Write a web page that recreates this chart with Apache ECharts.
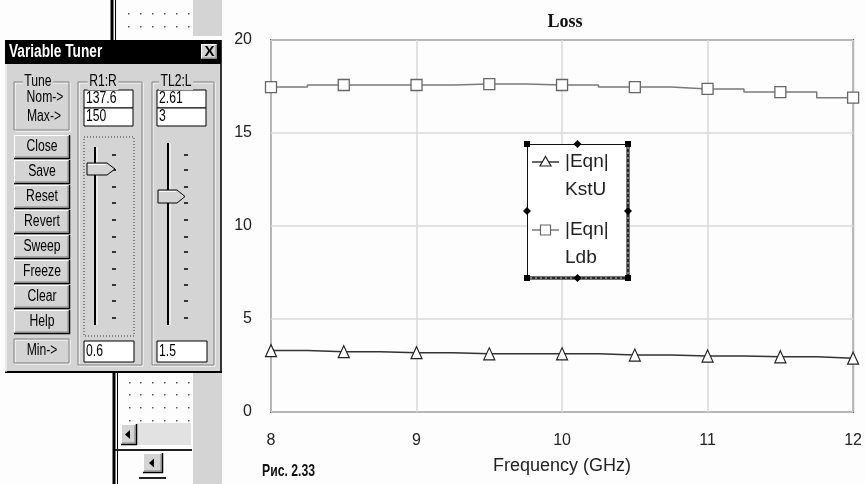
<!DOCTYPE html>
<html><head><meta charset="utf-8">
<script src="https://cdn.jsdelivr.net/npm/echarts@6/dist/echarts.min.js"></script>
<style>html,body{margin:0;padding:0;background:#fdfdfd}#c{width:865px;height:484px}</style>
</head><body><div id="c"></div>
<script>
// ---- chart data ----
const freq = [8, 8.5, 9, 9.5, 10, 10.5, 11, 11.5, 12];
const kstu = [3.30, 3.24, 3.19, 3.13, 3.13, 3.06, 3.01, 2.97, 2.89];
const ldb  = [17.47, 17.58, 17.58, 17.63, 17.58, 17.47, 17.37, 17.20, 16.90];
const seriesNames = ['|Eqn|\nKstU', '|Eqn|\nLdb'];
const chartTitle = 'Loss';
const xAxisName = 'Frequency (GHz)';
const caption = 'Рис. 2.33';
// ---- tuner dialog texts ----
const tunerTitle = 'Variable Tuner';
const tunerButtons = ['Close', 'Save', 'Reset', 'Revert', 'Sweep', 'Freeze', 'Clear', 'Help'];
const tuneLabels = ['Tune', 'Nom->', 'Max->', 'Min->'];
const paramNames = ['R1:R', 'TL2:L'];
const paramNom = ['137.6', '2.61'];
const paramMax = ['150', '3'];
const paramMin = ['0.6', '1.5'];

const NARROW = 'narrow';
const SANS = "'Liberation Sans',Arial,sans-serif";
const SERIF = "'Liberation Serif','Times New Roman',serif";
const FACE = '#d4d4d4', HI = '#ffffff', SH = '#808080', DK = '#000000';

const G = [];
function rect(x, y, w, h, fill, stroke, lw, dash, z) {
  G.push({type: 'rect', z: z || 100, shape: {x, y, width: w, height: h},
    style: {fill: fill || 'none', stroke: stroke || 'none', lineWidth: lw || 1, lineDash: dash || null}});
}
function line(x1, y1, x2, y2, stroke, lw, dash, z) {
  G.push({type: 'line', z: z || 101, shape: {x1, y1, x2, y2},
    style: {stroke: stroke, lineWidth: lw || 1, lineDash: dash || null}});
}
function poly(points, fill, stroke, lw, z) {
  G.push({type: 'polygon', z: z || 102, shape: {points},
    style: {fill: fill || 'none', stroke: stroke || 'none', lineWidth: lw || 1}});
}
function text(x, y, s, size, family, color, align, weight, bg, z, sx) {
  const narrow = family === NARROW;
  const st = {text: s, fontSize: size, fontFamily: narrow ? SANS : family, fontWeight: weight || 'normal',
    fill: color || '#000', align: align || 'left', textAlign: align || 'left',
    verticalAlign: 'middle', textVerticalAlign: 'middle'};
  if (bg) { st.backgroundColor = bg; st.padding = [0, 2]; }
  const el = {type: 'text', z: z || 103, x, y, style: st};
  if (narrow) { el.scaleX = sx || 0.76; }
  G.push(el);
}
function button3d(x, y, w, h) {
  rect(x, y, w, h, FACE);
  line(x, y + 0.5, x + w, y + 0.5, HI, 1);
  line(x + 0.5, y, x + 0.5, y + h, HI, 1);
  line(x, y + h - 0.5, x + w, y + h - 0.5, DK, 1.5);
  line(x + w - 0.5, y, x + w - 0.5, y + h, DK, 1.5);
  line(x + 1, y + h - 2, x + w - 1, y + h - 2, SH, 1);
  line(x + w - 2, y + 1, x + w - 2, y + h - 1, SH, 1);
}
function etched(x, y, w, h) {
  rect(x + 1, y + 1, w, h, null, HI, 1);
  rect(x, y, w, h, null, SH, 1);
}

// ---- background window pieces above the dialog ----
line(112, 0, 112, 40, DK, 3);
line(115.5, 0, 115.5, 40, DK, 1);
rect(193, 0, 29, 36, FACE, null, 1, null, 99);
[13, 26].forEach(yy => [128, 140, 152, 164, 176, 188].forEach(xx => rect(xx, yy, 1.5, 1.5, '#555')));

// ---- Variable Tuner dialog ----
rect(5, 40, 217, 333, FACE);
line(221, 40, 221, 373, DK, 1.5);
line(5, 372, 222, 372, DK, 2);
line(6, 64, 6, 372, HI, 1);
rect(5, 40, 216, 24, '#000');
text(9, 52, tunerTitle, 18, NARROW, '#fff', 'left', 'bold', null, 103, 0.76);
button3d(201, 44, 17, 16);
text(209.5, 52, 'X', 15, SANS, '#000', 'center', 'bold');

// Tune group
etched(14, 82, 55, 48);
text(38, 82, tuneLabels[0], 16, NARROW, '#000', 'center', 'normal', FACE);
text(45, 98, tuneLabels[1], 16, NARROW, '#000', 'center');
text(44, 117, tuneLabels[2], 16, NARROW, '#000', 'center');
// buttons
tunerButtons.forEach((b, i) => {
  const y = 135 + 25 * i;
  button3d(14, y, 56, 24);
  text(42, y + 12, b, 16, NARROW, '#000', 'center');
});
etched(14, 339, 55, 24);
text(42, 351, tuneLabels[3], 16, NARROW, '#000', 'center');

// parameter groups
const groupX = [78, 152], groupW = [64, 62], boxX = [84, 157], trackX = [95, 168], tickX = [112, 184];
const trackTop = [147, 143];
const thumbs = [[87, 163, 28, 12], [158, 190, 27, 13]];
const tickYs = [155, 170, 187, 203, 220, 237, 252, 269, 285, 301, 318];
for (let k = 0; k < 2; k++) {
  etched(groupX[k], 82, groupW[k], 283);
  text(groupX[k] + groupW[k] / 2 - 7, 82, paramNames[k], 16, NARROW, '#000', 'center', 'normal', FACE);
  rect(boxX[k], 90, 49, 18, '#fff', DK, 1);
  text(boxX[k] + 2, 99, paramNom[k], 16, NARROW);
  rect(boxX[k], 108, 49, 18, '#fff', DK, 1);
  text(boxX[k] + 2, 117, paramMax[k], 16, NARROW);
  rect(boxX[k], 341, 50, 21, '#fff', DK, 1);
  text(boxX[k] + 2, 351.5, paramMin[k], 16, NARROW);
  // slider track
  line(trackX[k], trackTop[k], trackX[k], 325, DK, 2);
  line(trackX[k] + 2, trackTop[k], trackX[k] + 2, 325, HI, 1);
  tickYs.forEach(ty => line(tickX[k], ty, tickX[k] + 4, ty, DK, 1.5));
  const [tx, ty, tw, th] = thumbs[k];
  poly([[tx, ty], [tx + tw - 8, ty], [tx + tw, ty + th / 2], [tx + tw - 8, ty + th], [tx, ty + th]], FACE, DK, 1);
  line(tx + 1, ty + 1.5, tx + tw - 9, ty + 1.5, HI, 1, null, 103);
}
rect(84, 137, 50, 199, null, '#333', 1, [1, 2]);

// ---- background pieces below the dialog ----
line(114, 373, 114, 484, DK, 3);
line(117.5, 373, 117.5, 484, DK, 1);
rect(193, 373, 29, 111, FACE, null, 1, null, 99);
[382, 394, 407, 420].forEach(yy => [129, 140, 152, 164, 176, 188].forEach(xx => rect(xx, yy, 1.5, 1.5, '#555')));
rect(137, 423, 54, 22, '#e2e2e2');
button3d(121, 424, 16, 21);
poly([[125, 434.5], [130, 430], [130, 439]], DK, null, 1, 104);
line(115, 450, 192, 450, '#222', 2);
button3d(143, 453, 20, 20);
poly([[149, 463], [154, 458.5], [154, 467.5]], DK, null, 1, 104);
line(139, 478, 166, 478, '#222', 2);

// ---- chart title & caption ----
text(565, 22, chartTitle, 18, SERIF, '#111', 'center', 'bold');
text(262, 471, caption, 17, NARROW, '#111', 'left', 'bold', null, 103, 0.72);

// ---- legend box ----
const LX = 527, LY = 144, LW = 101, LH = 134;
rect(LX, LY, LW, LH, '#fff', null, 1, null, 110);
line(LX, LY + 0.5, LX + LW, LY + 0.5, '#111', 1, null, 111);
line(LX + 0.5, LY, LX + 0.5, LY + LH, '#111', 1, null, 111);
line(LX + LW, LY, LX + LW, LY + LH, '#777', 4, null, 111);
line(LX, LY + LH, LX + LW, LY + LH, '#777', 4, null, 111);
line(LX + LW, LY, LX + LW, LY + LH, '#111', 1.5, [3, 2], 111);
line(LX, LY + LH, LX + LW, LY + LH, '#111', 1.5, [3, 2], 111);
[[LX, LY], [LX + LW, LY], [LX, LY + LH], [LX + LW, LY + LH]].forEach(([cx, cy]) => rect(cx - 3, cy - 3, 6, 6, '#000', null, 1, null, 112));
[[LX + LW / 2, LY], [LX + LW / 2, LY + LH], [LX, LY + LH / 2], [LX + LW, LY + LH / 2]].forEach(([cx, cy]) =>
  poly([[cx, cy - 4], [cx + 4, cy], [cx, cy + 4], [cx - 4, cy]], '#000', null, 1, 112));
// legend entries
line(532, 162, 559, 162, '#333', 1.5, null, 112);
poly([[545.5, 156.5], [551, 166], [540, 166]], '#fff', '#222', 1.2, 113);
line(532, 230, 559, 230, '#7a7a7a', 1.5, null, 112);
rect(540.5, 225, 10, 10, '#fff', '#666', 1.2, null, 113);
const parts0 = seriesNames[0].split('\n'), parts1 = seriesNames[1].split('\n');
text(565, 162, parts0[0], 19, SANS, '#222', 'left', 'normal', null, 114);
text(565, 190, parts0[1], 19, SANS, '#222', 'left', 'normal', null, 114);
text(565, 230, parts1[0], 19, SANS, '#222', 'left', 'normal', null, 114);
text(565, 258, parts1[1], 19, SANS, '#222', 'left', 'normal', null, 114);

const chart = echarts.init(document.getElementById('c'));
chart.setOption({
  backgroundColor: '#fdfdfd',
  animation: false,
  grid: {left: 271, top: 40, width: 589, height: 372, show: true, borderColor: '#555', borderWidth: 2},
  legend: {show: false},
  xAxis: {
    type: 'value', min: 8, max: 12, interval: 1,
    axisLine: {show: false}, axisTick: {show: false},
    splitLine: {show: true, lineStyle: {color: '#d8d8d8', width: 1.5}},
    axisLabel: {fontSize: 16, fontFamily: SANS, color: '#222', margin: 21},
    name: xAxisName, nameLocation: 'middle', nameGap: 45,
    nameTextStyle: {fontSize: 18, fontFamily: SANS, color: '#222'}
  },
  yAxis: {
    type: 'value', min: 0, max: 20, interval: 5,
    axisLine: {show: false}, axisTick: {show: false},
    splitLine: {show: true, lineStyle: {color: '#d8d8d8', width: 1.5}},
    axisLabel: {fontSize: 16, fontFamily: SANS, color: '#222', margin: 19}
  },
  series: [
    {
      name: seriesNames[0], type: 'line', step: 'middle',
      data: freq.map((f, i) => [f, kstu[i]]),
      symbol: 'triangle', symbolSize: [11, 12],
      itemStyle: {color: '#fff', borderColor: '#222', borderWidth: 1.2},
      lineStyle: {color: '#333', width: 1.5},
      emphasis: {disabled: true}
    },
    {
      name: seriesNames[1], type: 'line', step: 'middle',
      data: freq.map((f, i) => [f, ldb[i]]),
      symbol: 'rect', symbolSize: 11,
      itemStyle: {color: '#fff', borderColor: '#666', borderWidth: 1.3},
      lineStyle: {color: '#7a7a7a', width: 1.5},
      emphasis: {disabled: true}
    }
  ],
  graphic: {elements: G}
});
</script></body></html>
